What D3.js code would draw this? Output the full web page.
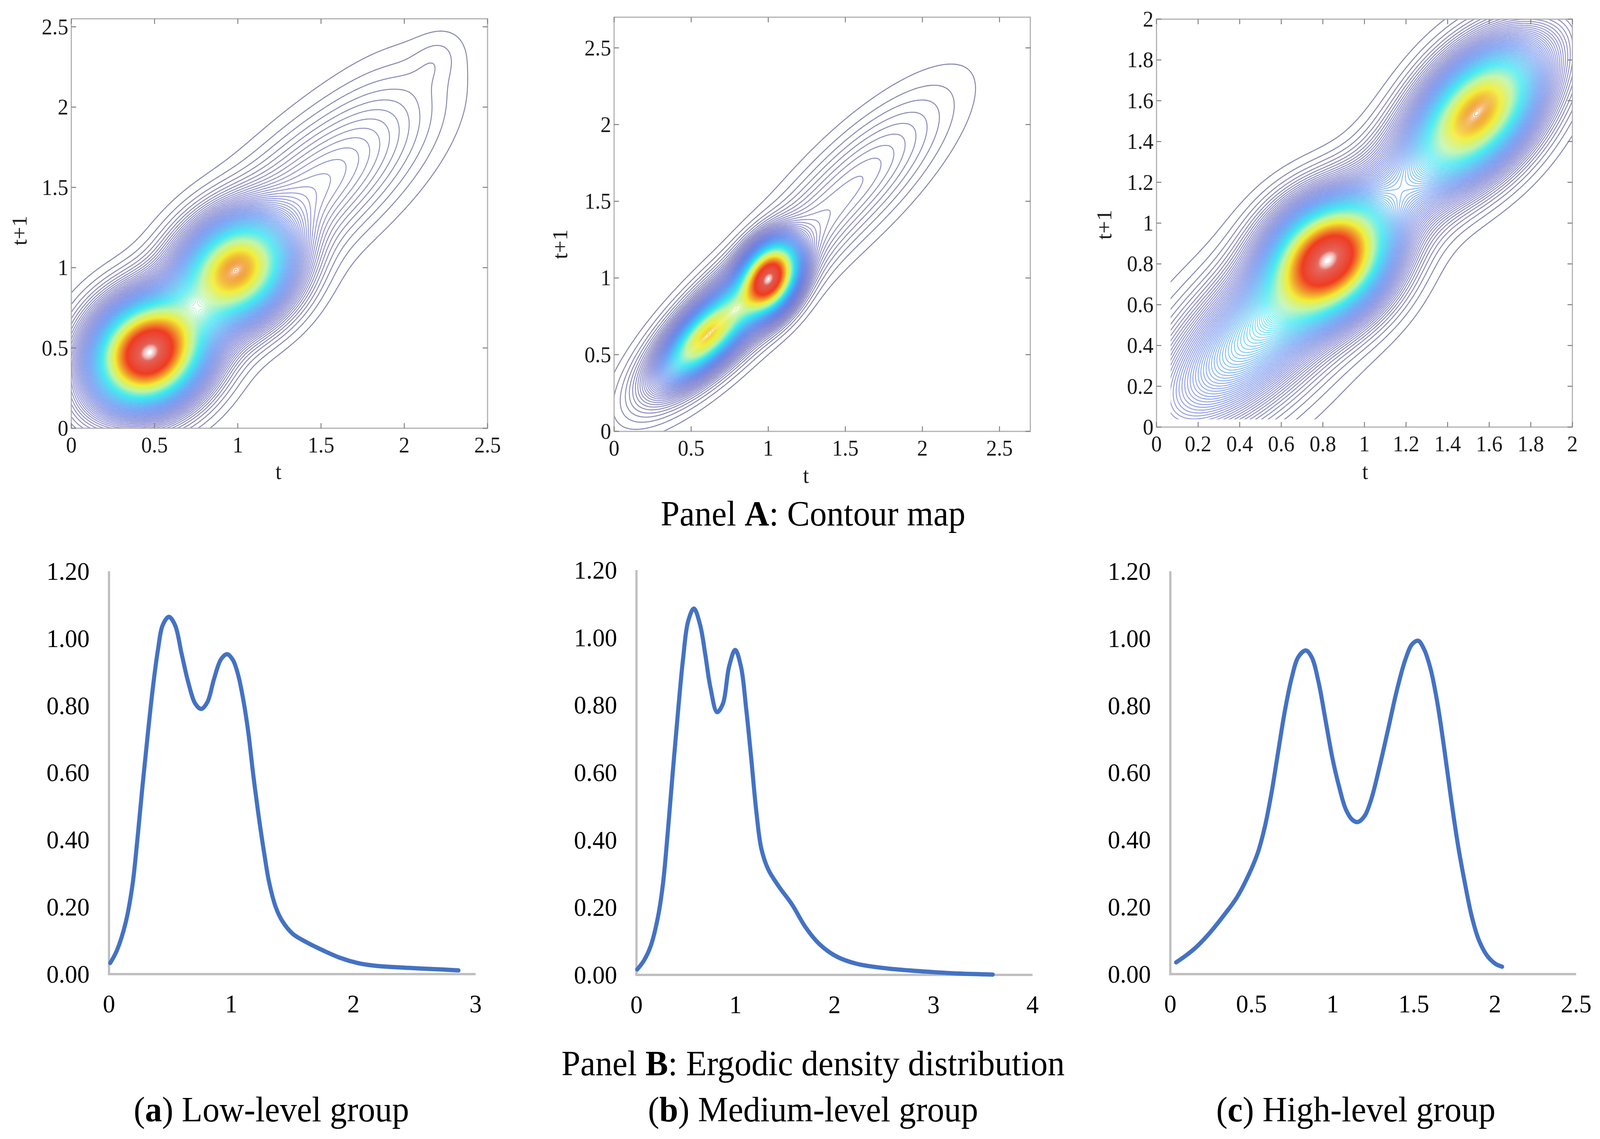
<!DOCTYPE html>
<html>
<head>
<meta charset="utf-8">
<script src="https://cdn.jsdelivr.net/npm/d3@7"></script>
<style>
  html, body { margin: 0; padding: 0; background: #ffffff; overflow: hidden; }
  svg { display: block; width: 100vw; height: 100vh; }
</style>
</head>
<body>
<svg id="chart" viewBox="0 0 4286 2915" preserveAspectRatio="none"></svg>
<script>
// ===================== DATA =====================
// Panel A contour maps: the joint density is described by bumps
// each row: [centre t, centre t+1, spread t, spread t+1, correlation, height]
const lowKernels = [
  [0.46, 0.465, 0.20, 0.20, 0.10, 0.72],
  [1.00, 0.99, 0.20, 0.20, 0.15, 0.54],
  [0.60, 0.60, 0.33, 0.33, 0.65, 0.18],
  [1.42, 1.46, 0.40, 0.38, 0.70, 0.08],
  [1.88, 1.90, 0.28, 0.32, 0.45, 0.011],
  [2.19, 2.30, 0.10, 0.11, 0.30, 0.009]
];
const medKernels = [
  [0.59, 0.61, 0.17, 0.17, 0.72, 0.30],
  [1.01, 1.00, 0.11, 0.14, 0.30, 0.58],
  [0.72, 0.74, 0.30, 0.30, 0.80, 0.20],
  [1.55, 1.60, 0.38, 0.38, 0.80, 0.05]
];
const highKernels = [
  [0.83, 0.83, 0.17, 0.17, 0.15, 0.56],
  [1.55, 1.55, 0.18, 0.20, 0.40, 0.42],
  [0.62, 0.60, 0.36, 0.36, 0.82, 0.22],
  [1.45, 1.45, 0.32, 0.32, 0.80, 0.15],
  [0.45, 0.40, 0.32, 0.32, 0.55, 0.06]
];
const lowContourTicks = [0, 0.5, 1, 1.5, 2, 2.5];
const medContourTicks = [0, 0.5, 1, 1.5, 2, 2.5];
const highContourTicks = [0, 0.2, 0.4, 0.6, 0.8, 1, 1.2, 1.4, 1.6, 1.8, 2];

// Panel B ergodic density curves
const lowT = [0.01, 0.064, 0.134, 0.19, 0.232, 0.274, 0.316, 0.358, 0.40, 0.44, 0.49, 0.54, 0.595, 0.65, 0.707, 0.755, 0.805, 0.86, 0.917, 0.967, 1.015, 1.057, 1.099, 1.14, 1.18, 1.225, 1.27, 1.31, 1.364, 1.42, 1.504, 1.616, 1.755, 1.895, 2.035, 2.175, 2.455, 2.734, 2.86];
const lowDensity = [0.033, 0.07, 0.15, 0.26, 0.40, 0.56, 0.71, 0.85, 0.965, 1.04, 1.064, 1.04, 0.953, 0.867, 0.805, 0.79, 0.81, 0.88, 0.938, 0.953, 0.935, 0.891, 0.817, 0.72, 0.595, 0.47, 0.36, 0.274, 0.20, 0.157, 0.12, 0.095, 0.07, 0.048, 0.033, 0.025, 0.0185, 0.0136, 0.011];
const medT = [0.007, 0.076, 0.144, 0.213, 0.265, 0.316, 0.368, 0.419, 0.471, 0.522, 0.58, 0.643, 0.694, 0.746, 0.814, 0.873, 0.935, 0.997, 1.055, 1.107, 1.158, 1.21, 1.261, 1.33, 1.433, 1.57, 1.708, 1.845, 2.017, 2.223, 2.567, 2.91, 3.254, 3.598];
const medDensity = [0.016, 0.043, 0.086, 0.166, 0.264, 0.423, 0.607, 0.779, 0.939, 1.049, 1.086, 1.037, 0.951, 0.853, 0.779, 0.804, 0.914, 0.963, 0.914, 0.791, 0.644, 0.485, 0.374, 0.313, 0.264, 0.209, 0.141, 0.092, 0.055, 0.033, 0.018, 0.010, 0.004, 0.001];
const highT = [0.036, 0.098, 0.161, 0.245, 0.328, 0.412, 0.485, 0.538, 0.58, 0.621, 0.663, 0.705, 0.747, 0.789, 0.835, 0.872, 0.914, 0.956, 0.998, 1.04, 1.082, 1.123, 1.155, 1.197, 1.238, 1.29, 1.343, 1.395, 1.448, 1.49, 1.527, 1.563, 1.605, 1.646, 1.688, 1.73, 1.772, 1.814, 1.856, 1.898, 1.95, 2.002, 2.044];
const highDensity = [0.035, 0.056, 0.081, 0.124, 0.174, 0.23, 0.298, 0.36, 0.434, 0.533, 0.658, 0.782, 0.881, 0.945, 0.964, 0.943, 0.868, 0.757, 0.645, 0.558, 0.49, 0.459, 0.453, 0.471, 0.521, 0.62, 0.732, 0.844, 0.937, 0.983, 0.993, 0.968, 0.906, 0.806, 0.67, 0.521, 0.385, 0.273, 0.174, 0.105, 0.056, 0.031, 0.022];
const densityYTicks = [0, 0.2, 0.4, 0.6, 0.8, 1.0, 1.2];
const lowXTicks = [0, 1, 2, 3];
const medXTicks = [0, 1, 2, 3, 4];
const highXTicks = [0, 0.5, 1, 1.5, 2, 2.5];
const captionLetters = ["a", "b", "c"];
const captionNames = ["Low-level group", "Medium-level group", "High-level group"];

// ===================== DRAWING =====================
const svg = d3.select("#chart");
const FONT = "'Liberation Serif', 'Times New Roman', serif";

// softened jet-like colour map seen in the contour maps
const levelColor = d3.scaleLinear()
  .domain([0, 0.1, 0.22, 0.4, 0.51, 0.62, 0.82, 0.97, 1])
  .range(["#38387a", "#5c5cc0", "#4f80f0", "#22e6f0", "#b8f4a0", "#f2ee34", "#f03c22", "#e25a50", "#f4dcdc"])
  .interpolate(d3.interpolateRgb)
  .clamp(true);

function kernelDensity(kernels, x, y) {
  let s = 0;
  for (const [mx, my, sx, sy, r, h] of kernels) {
    const a = (x - mx) / sx, b = (y - my) / sy;
    s += h * Math.exp(-(a * a - 2 * r * a * b + b * b) / (2 * (1 - r * r)));
  }
  return s;
}

const contourPanels = [
  { id: "low", kernels: lowKernels, ticks: lowContourTicks,
    left: 191, right: 1306, top: 48, bottom: 1096,
    xDom: [0, 2.5], yDom: [0, 2.55],
    grid: [-0.05, 2.6, -0.05, 2.65, 0.01], clipMin: [0, 0],
    xTitle: [746, 1226], yTitle: [52, 590] },
  { id: "med", kernels: medKernels, ticks: medContourTicks,
    left: 1645, right: 2760, top: 44, bottom: 1104,
    xDom: [0, 2.7], yDom: [0, 2.7],
    grid: [-0.05, 2.8, -0.05, 2.8, 0.01], clipMin: [0, 0],
    xTitle: [2159, 1236], yTitle: [1500, 625] },
  { id: "high", kernels: highKernels, ticks: highContourTicks,
    left: 3098, right: 4212, top: 49, bottom: 1093,
    xDom: [0, 2], yDom: [0, 2],
    grid: [0.06, 2.1, 0.03, 2.1, 0.008], clipMin: [0.068, 0.038],
    xTitle: [3657, 1226], yTitle: [2958, 575] }
];

// contour levels (fractions of the peak): evenly spaced, getting gradually denser towards the peaks
const levelFractions = [];
{
  const coarse = 1 / 130, fine = 1 / 420;
  for (let f = coarse; f < 0.997; ) {
    levelFractions.push(f);
    const u = Math.min(1, Math.max(0, (f - 0.3) / 0.4));
    const s = u * u * (3 - 2 * u);
    f += coarse * (1 - s) + fine * s;
  }
}
const tickFmt = d3.format("");

contourPanels.forEach(p => {
  const x = d3.scaleLinear().domain(p.xDom).range([p.left, p.right]);
  const y = d3.scaleLinear().domain(p.yDom).range([p.bottom, p.top]);
  const [gx0, gx1, gy0, gy1, step] = p.grid;
  const nx = Math.round((gx1 - gx0) / step) + 1;
  const ny = Math.round((gy1 - gy0) / step) + 1;
  const values = new Float64Array(nx * ny);
  let vmax = 0;
  for (let j = 0; j < ny; j++) {
    for (let i = 0; i < nx; i++) {
      const v = kernelDensity(p.kernels, gx0 + i * step, gy0 + j * step);
      values[j * nx + i] = v;
      if (v > vmax) vmax = v;
    }
  }
  const levels = levelFractions.map(f => vmax * f);
  const contours = d3.contours().size([nx, ny]).thresholds(levels)(values);

  const cx0 = Math.max(p.xDom[0], p.clipMin[0]);
  const cy0 = Math.max(p.yDom[0], p.clipMin[1]);
  svg.append("clipPath").attr("id", "clip-" + p.id)
    .append("rect")
    .attr("x", x(cx0)).attr("y", p.top)
    .attr("width", p.right - x(cx0)).attr("height", y(cy0) - p.top);

  const g = svg.append("g").attr("clip-path", `url(#clip-${p.id})`);
  const toPx = pt => {
    const dx = gx0 + (pt[0] - 0.5) * step;
    const dy = gy0 + (pt[1] - 0.5) * step;
    return x(dx).toFixed(1) + "," + y(dy).toFixed(1);
  };
  const pathOf = geom => geom.coordinates.map(poly =>
    poly.map(ring => "M" + ring.map(toPx).join("L") + "Z").join("")
  ).join("");

  g.selectAll("path").data(contours.filter(c => c.coordinates.length)).join("path")
    .attr("d", pathOf)
    .attr("fill", "none")
    .attr("stroke", d => levelColor(d.value / vmax))
    .attr("stroke-opacity", 0.62)
    .attr("stroke-width", 2.6);

  // frame
  svg.append("rect")
    .attr("x", p.left).attr("y", p.top)
    .attr("width", p.right - p.left).attr("height", p.bottom - p.top)
    .attr("fill", "none").attr("stroke", "#b0b0b0").attr("stroke-width", 3);

  // inward ticks on all sides
  const tl = 13;
  const tg = svg.append("g").attr("stroke", "#7f7f7f").attr("stroke-width", 2.5);
  p.ticks.forEach(t => {
    const px = x(t), py = y(t);
    tg.append("line").attr("x1", px).attr("x2", px).attr("y1", p.bottom).attr("y2", p.bottom - tl);
    tg.append("line").attr("x1", px).attr("x2", px).attr("y1", p.top).attr("y2", p.top + tl);
    tg.append("line").attr("y1", py).attr("y2", py).attr("x1", p.left).attr("x2", p.left + tl);
    tg.append("line").attr("y1", py).attr("y2", py).attr("x1", p.right).attr("x2", p.right - tl);
  });

  // tick labels
  const lab = svg.append("g").attr("font-family", FONT).attr("font-size", 57).attr("fill", "#1a1a1a");
  p.ticks.forEach(t => {
    lab.append("text").attr("x", x(t)).attr("y", p.bottom + 62)
      .attr("text-anchor", "middle").text(tickFmt(t));
    lab.append("text").attr("x", p.left - 8).attr("y", y(t) + 19)
      .attr("text-anchor", "end").text(tickFmt(t));
  });
  // axis titles
  lab.append("text").attr("x", p.xTitle[0]).attr("y", p.xTitle[1])
    .attr("text-anchor", "middle").text("t");
  lab.append("text")
    .attr("transform", `translate(${p.yTitle[0]},${p.yTitle[1]}) rotate(-90)`)
    .attr("text-anchor", "middle").attr("dominant-baseline", "central").text("t+1");
});

// ---------- Panel B ----------
const densityPanels = [
  { ts: lowT, ds: lowDensity, xt: lowXTicks, xDom: [0, 3], left: 292, right: 1274, y0: 2493, y12: 1462 },
  { ts: medT, ds: medDensity, xt: medXTicks, xDom: [0, 4], left: 1705, right: 2766, y0: 2495, y12: 1459 },
  { ts: highT, ds: highDensity, xt: highXTicks, xDom: [0, 2.5], left: 3135, right: 4222, y0: 2493, y12: 1462 }
];
const fmt2 = d3.format(".2f");
densityPanels.forEach(p => {
  const x = d3.scaleLinear().domain(p.xDom).range([p.left, p.right]);
  const y = d3.scaleLinear().domain([0, 1.2]).range([p.y0, p.y12]);
  const ax = svg.append("g").attr("stroke", "#bfbfbf").attr("stroke-width", 6).attr("fill", "none");
  ax.append("line").attr("x1", p.left).attr("x2", p.left).attr("y1", y(1.2)).attr("y2", y(0) + 3);
  ax.append("line").attr("x1", p.left - 3).attr("x2", p.right).attr("y1", y(0)).attr("y2", y(0));

  const line = d3.line().x((d, i) => x(p.ts[i])).y((d, i) => y(p.ds[i])).curve(d3.curveCatmullRom.alpha(0.5));
  svg.append("path").datum(p.ds).attr("d", line)
    .attr("fill", "none").attr("stroke", "#4472c4").attr("stroke-width", 11)
    .attr("stroke-linecap", "round").attr("stroke-linejoin", "round");

  const lab = svg.append("g").attr("font-family", FONT).attr("font-size", 66).attr("fill", "#000");
  densityYTicks.forEach(t => {
    lab.append("text").attr("x", p.left - 52).attr("y", y(t) + 22)
      .attr("text-anchor", "end").text(fmt2(t));
  });
  p.xt.forEach(t => {
    lab.append("text").attr("x", x(t)).attr("y", p.y0 + 98)
      .attr("text-anchor", "middle").text(tickFmt(t));
  });
});

// ---------- Titles and captions ----------
const titles = svg.append("g").attr("font-family", FONT).attr("font-size", 91).attr("fill", "#000").attr("text-anchor", "middle");
const tA = titles.append("text").attr("x", 2178).attr("y", 1345);
tA.append("tspan").text("Panel ");
tA.append("tspan").attr("font-weight", "bold").text("A");
tA.append("tspan").text(": Contour map");
const tB = titles.append("text").attr("x", 2178).attr("y", 2752);
tB.append("tspan").text("Panel ");
tB.append("tspan").attr("font-weight", "bold").text("B");
tB.append("tspan").text(": Ergodic density distribution");
const capX = [727, 2178, 3632];
captionLetters.forEach((c, i) => {
  const t = titles.append("text").attr("x", capX[i]).attr("y", 2870);
  t.append("tspan").text("(");
  t.append("tspan").attr("font-weight", "bold").text(c);
  t.append("tspan").text(") " + captionNames[i]);
});
</script>
</body>
</html>
